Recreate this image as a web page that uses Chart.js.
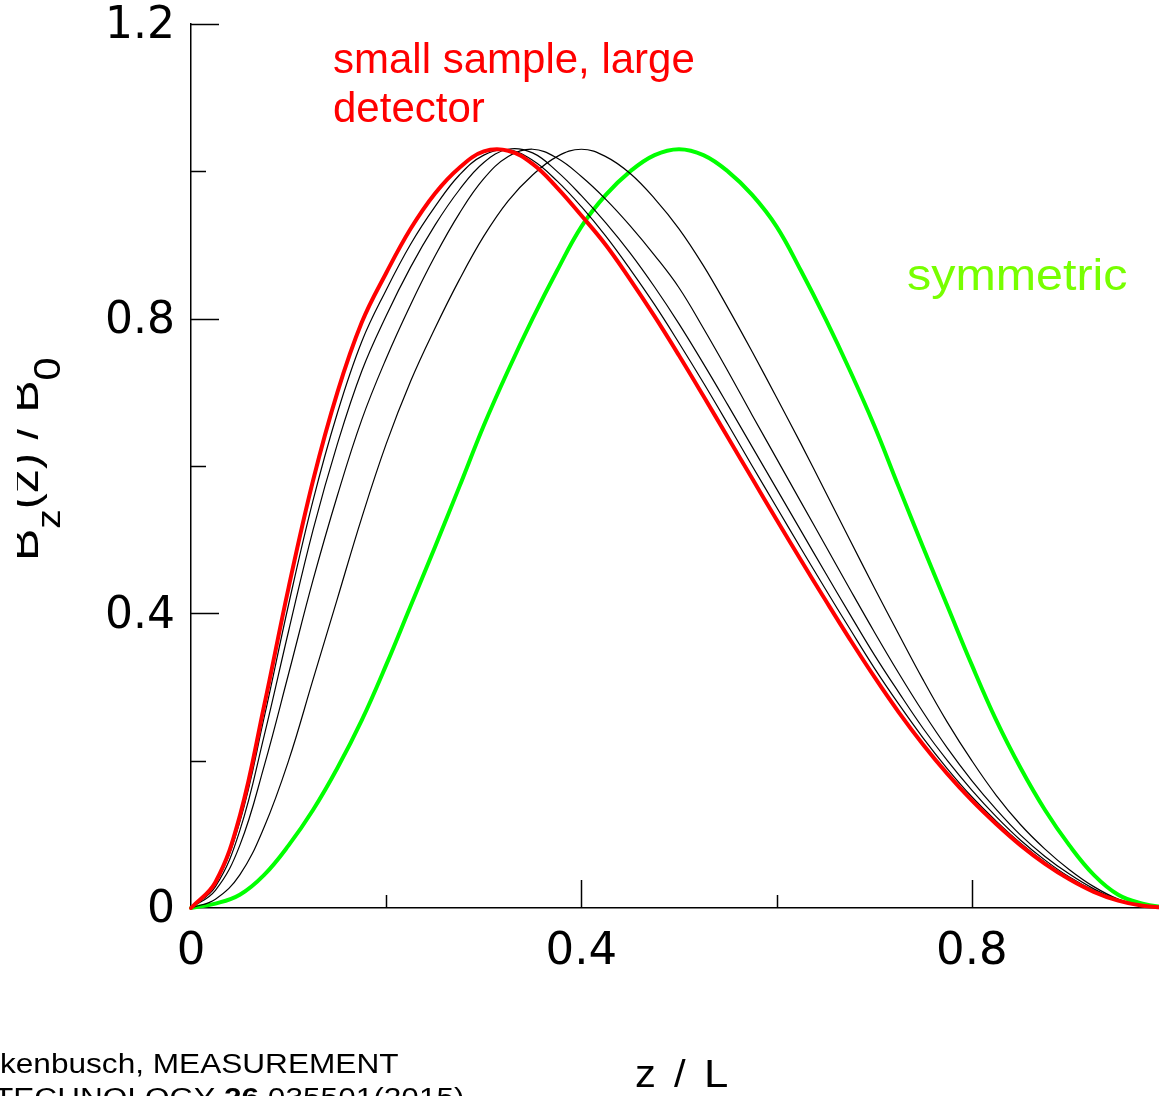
<!DOCTYPE html>
<html><head><meta charset="utf-8">
<script src="https://cdn.jsdelivr.net/npm/chart.js@4/dist/chart.umd.min.js"></script>
<style>
html,body{margin:0;padding:0;background:#fff;overflow:hidden;width:1159px;height:1096px}
#wrap{position:absolute;left:0;top:0;width:1200px;height:1096px}
</style></head>
<body><div id="wrap"><canvas id="c" width="1200" height="1096"></canvas></div>
<script>
// ---- data ----
const zGrid  = [0,.025,.05,.075,.1,.125,.15,.175,.2,.225,.25,.275,.3,.325,.35,.375,.4,.425,.45,.475,.5,
                .525,.55,.575,.6,.625,.65,.675,.7,.725,.75,.775,.8,.825,.85,.875,.9,.925,.95,.975,1];
const redY   = [0,.035,.125,.275,.435,.58,.70,.795,.862,.922,.97,1.005,1.027,1.028,1.01,.978,.94,.90,.853,.803,.75,
                .695,.639,.583,.527,.472,.418,.365,.314,.266,.222,.182,.146,.114,.085,.06,.039,.022,.01,.003,0];
const black1 = [0,.033,.117,.259,.412,.553,.672,.769,.839,.901,.952,.995,1.022,1.029,1.015,.987,.952,.912,.867,.819,.767,
                .713,.657,.60,.544,.488,.433,.379,.326,.277,.231,.189,.151,.118,.088,.062,.04,.023,.01,.003,0];
const black2 = [0,.029,.105,.234,.376,.513,.63,.729,.804,.87,.927,.975,1.012,1.03,1.025,1.0,.967,.93,.889,.843,.793,
                .739,.683,.626,.569,.512,.455,.399,.344,.293,.244,.20,.16,.124,.092,.065,.042,.024,.011,.003,0];
const black3 = [0,.024,.085,.193,.318,.445,.56,.663,.746,.819,.885,.943,.99,1.02,1.03,1.018,.993,.962,.926,.886,.842,
                .787,.729,.669,.61,.551,.492,.433,.375,.319,.266,.217,.173,.134,.099,.07,.046,.026,.011,.003,0];
const black4 = [0,.012,.045,.11,.2,.31,.42,.53,.63,.715,.787,.853,.912,.96,.995,1.02,1.03,1.02,.997,.963,.922,
                .872,.815,.755,.693,.63,.565,.50,.435,.372,.31,.252,.20,.153,.113,.08,.052,.029,.012,.003,0];
const greenY = [0,.006,.018,.045,.085,.133,.19,.255,.33,.41,.49,.572,.655,.73,.80,.865,.925,.968,1.0,1.022,1.03,
                1.022,1.0,.968,.925,.865,.80,.73,.655,.572,.49,.41,.33,.255,.19,.133,.085,.045,.018,.006,0];

const xTickLabels = ['0','','0.4','','0.8',''];
const yTickLabels = ['0','','0.4','','0.8','','1.2'];

const pts = ys => zGrid.map((x, i) => ({x, y: ys[i]}));

function ds(ys, color, w) {
  return {data: pts(ys), borderColor: color, borderWidth: w, pointRadius: 0,
          fill: false, tension: 0.4, cubicInterpolationMode: 'default', clip: false,
          borderCapStyle: 'round', borderJoinStyle: 'round'};
}

const decor = {
  id: 'decor',
  afterDraw(chart) {
    const ctx = chart.ctx;
    const xs = chart.scales.x, ys = chart.scales.y;
    const bottom = chart.chartArea.bottom, left = chart.chartArea.left;
    ctx.save();
    ctx.strokeStyle = '#000';
    ctx.lineWidth = 1.5;
    // inward tick marks
    xs.ticks.forEach((t, i) => {
      if (i === 0) return;
      const px = Math.round(xs.getPixelForValue(t.value)) + 0.5;
      const len = (i % 2 === 0) ? 28 : 13;
      ctx.beginPath(); ctx.moveTo(px, bottom); ctx.lineTo(px, bottom - len); ctx.stroke();
    });
    ys.ticks.forEach((t, i) => {
      if (i === 0) return;
      const py = Math.round(ys.getPixelForValue(t.value)) + 0.5;
      const len = (i % 2 === 0) ? 28 : 15;
      ctx.beginPath(); ctx.moveTo(left, py); ctx.lineTo(left + len, py); ctx.stroke();
    });
    ctx.restore();

    function txt(s, x, y, font, color, sx) {
      ctx.save();
      ctx.font = font; ctx.fillStyle = color; ctx.textBaseline = 'alphabetic'; ctx.textAlign = 'left';
      ctx.translate(x, y); ctx.scale(sx || 1, 1);
      ctx.fillText(s, 0, 0);
      ctx.restore();
    }
    txt('small sample, large', 333, 73, '42px "Liberation Sans"', '#ff0000');
    txt('detector', 333, 122, '42px "Liberation Sans"', '#ff0000');
    txt('symmetric', 907, 290, '44px "Liberation Sans"', '#77ff00', 1.1);
    txt('z', 635, 1087, '38px "Liberation Sans"', '#000', 1.1);
    txt('/', 674, 1087, '38px "Liberation Sans"', '#000', 1.1);
    txt('L', 704, 1087, '38px "Liberation Sans"', '#000', 1.15);
    txt('kenbusch, MEASUREMENT', 0, 1073, '27px "Liberation Sans"', '#000', 1.17);
    // second citation line (mostly cut off)
    ctx.save();
    ctx.fillStyle = '#000';
    ctx.translate(-6, 1107); ctx.scale(1.17, 1);
    let cx = 0;
    const parts = [['TECHNOLOGY ', '27px "Liberation Sans"'], ['26', 'bold 27px "Liberation Sans"'], [' 035501(2015)', '27px "Liberation Sans"']];
    parts.forEach(([s, f]) => { ctx.font = f; ctx.fillText(s, cx, 0); cx += ctx.measureText(s).width; });
    ctx.restore();

    // rotated y-axis label B_z(z) / B_0, partly cut at the left
    ctx.save();
    ctx.beginPath(); ctx.rect(17, 0, 120, 1096); ctx.clip();
    ctx.translate(38, 561); ctx.rotate(-Math.PI / 2); ctx.scale(1.15, 1);
    ctx.fillStyle = '#000'; ctx.textBaseline = 'alphabetic';
    let p = 0;
    const seg = [['B', 42, 0], ['z', 34, 22], ['(z) / B', 42, 0], ['0', 36, 22]];
    seg.forEach(([s, size, off]) => {
      ctx.font = size + 'px "Liberation Sans"';
      ctx.fillText(s, p, off);
      p += ctx.measureText(s).width;
    });
    ctx.restore();
  }
};

new Chart(document.getElementById('c'), {
  type: 'line',
  data: {
    datasets: [
      ds(redY, '#ff0000', 4),
      ds(black1, '#000000', 1.2),
      ds(black2, '#000000', 1.2),
      ds(black3, '#000000', 1.2),
      ds(black4, '#000000', 1.2),
      ds(greenY, '#00ff00', 4)
    ]
  },
  options: {
    responsive: false, animation: false, devicePixelRatio: 1,
    layout: {padding: {top: 24, right: 33, left: 0, bottom: 0}},
    plugins: {legend: {display: false}, tooltip: {enabled: false}},
    scales: {
      x: {
        type: 'linear', min: 0, max: 1,
        grid: {display: false},
        border: {display: true, color: '#000', width: 1.5},
        ticks: {stepSize: 0.2, autoSkip: false, maxRotation: 0, padding: 14, color: '#000',
                font: {family: 'DejaVu Sans', size: 45, lineHeight: 1},
                callback: (v, i) => xTickLabels[i]},
        afterFit: s => { s.height = 188; s.paddingLeft = 0; s.paddingRight = 0; }
      },
      y: {
        type: 'linear', min: 0, max: 1.2,
        grid: {display: false},
        border: {display: true, color: '#000', width: 1.5},
        ticks: {stepSize: 0.2, autoSkip: false, padding: 8, color: '#000', labelOffset: 3,
                font: {family: 'DejaVu Sans', size: 44, lineHeight: 1},
                callback: (v, i) => yTickLabels[i]},
        afterFit: s => { s.width = 191; s.paddingTop = 0; s.paddingBottom = 0; }
      }
    }
  },
  plugins: [decor]
});
</script>
</body></html>
